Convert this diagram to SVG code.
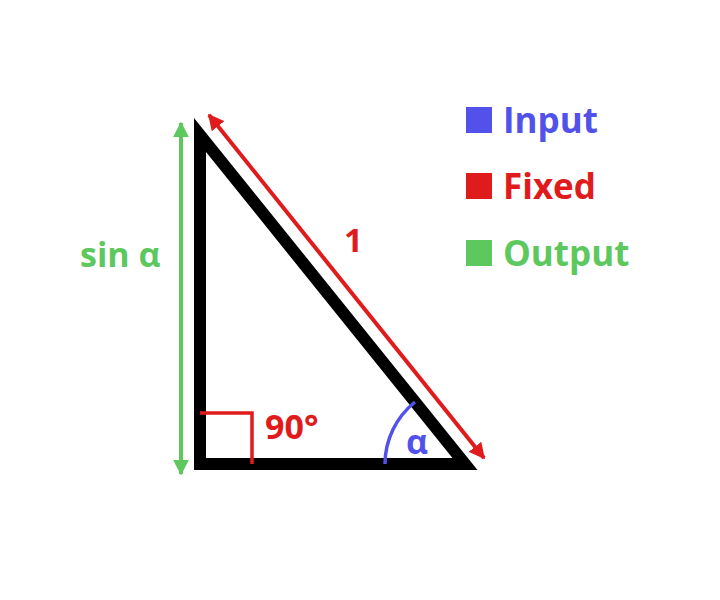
<svg xmlns="http://www.w3.org/2000/svg" width="720" height="600" viewBox="0 0 720 600">
<defs>
<style>
text{font-family:"Open Sans","Noto Sans","DejaVu Sans",sans-serif;font-weight:bold}
.red{fill:#e01b1b}.blue{fill:#5252ea}.green{fill:#5dc85d}
</style>
<marker id="ar" viewBox="0 0 10 10" refX="9" refY="5" markerWidth="4" markerHeight="4" orient="auto-start-reverse" markerUnits="strokeWidth"><path d="M0,0 L10,5 L0,10 z" fill="#e01b1b"/></marker>
<marker id="ag" viewBox="0 0 10 10" refX="9" refY="5" markerWidth="4" markerHeight="4" orient="auto-start-reverse" markerUnits="strokeWidth"><path d="M0,0 L10,5 L0,10 z" fill="#5dc85d"/></marker>
</defs>
<rect width="720" height="600" fill="#fff"/>
<g id="triangle">
<polygon points="200,135 200,464 465,464" fill="none" stroke="#000" stroke-width="12" stroke-linejoin="miter" stroke-miterlimit="10"/>
</g>
<g id="right-angle">
<polyline points="200,413 252,413 252,464" fill="none" stroke="#e01b1b" stroke-width="3.5"/>
<text class="red" x="265" y="439" font-size="34">90°</text>
</g>
<g id="angle">
<path d="M385,464 A80,80 0 0 1 415,402" fill="none" stroke="#5252ea" stroke-width="3.5"/>
<text class="blue" x="406" y="454" font-size="34">α</text>
</g>
<g id="connectors">
<line x1="209" y1="115" x2="484" y2="458" stroke="#e01b1b" stroke-width="4" marker-start="url(#ar)" marker-end="url(#ar)"/>
<line x1="181" y1="123" x2="181" y2="474" stroke="#5dc85d" stroke-width="4" marker-start="url(#ag)" marker-end="url(#ag)"/>
</g>
<g id="hyp-label"><text class="red" x="344" y="252" font-size="33">1</text></g>
<g id="side-label"><text class="green" x="80" y="267" font-size="34">sin α</text></g>
<g id="legend">
<rect x="466" y="107" width="26" height="26" fill="#5252ea"/>
<text class="blue" x="503" y="133" font-size="35">Input</text>
<rect x="466" y="173" width="26" height="26" fill="#e01b1b"/>
<text class="red" x="503" y="199" font-size="35">Fixed</text>
<rect x="466" y="240" width="26" height="26" fill="#5dc85d"/>
<text class="green" x="503" y="266" font-size="35">Output</text>
</g>
</svg>
